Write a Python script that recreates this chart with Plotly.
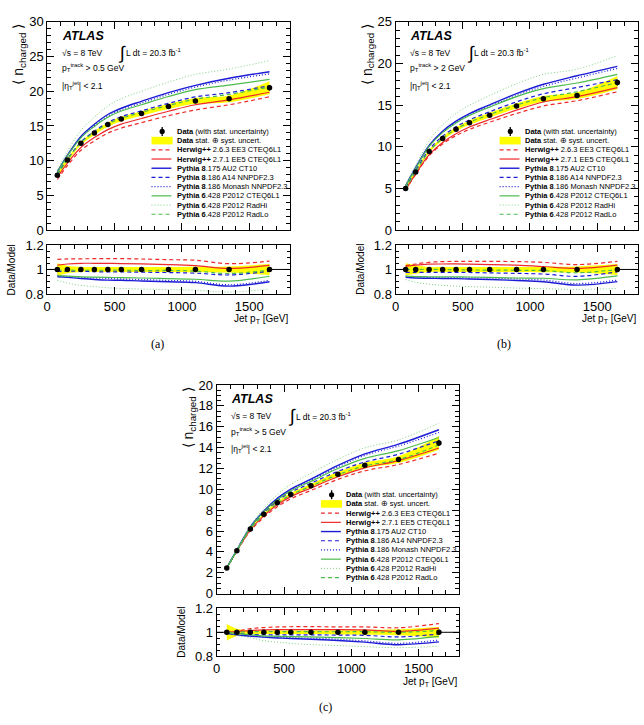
import plotly.graph_objects as go

# ---------------- data ----------------
PT = [75, 150, 250, 350, 450, 550, 700, 900, 1100, 1350, 1650]
X_TICKS = [0, 500, 1000, 1500]

# panel (a): pT(track) > 0.5 GeV
DATA_A = [7.9, 10.1, 12.5, 14.0, 15.2, 16.0, 16.8, 17.8, 18.6, 18.9, 20.5]
STAT_A = [0.05, 0.05, 0.05, 0.05, 0.05, 0.06, 0.06, 0.08, 0.1, 0.15, 0.4]
SYST_A = [0.05, 0.03, 0.02, 0.02, 0.02, 0.02, 0.02, 0.02, 0.022, 0.025, 0.045]
HW263_A = [7.3, 9.3, 11.5, 12.87, 13.97, 14.7, 15.48, 16.48, 17.3, 18.05, 19.2]
HW271_A = [7.63, 9.67, 11.9, 13.33, 14.48, 15.27, 16.08, 17.12, 18.05, 18.75, 19.85]
AU2_A = [8.4, 10.8, 13.5, 15.25, 16.65, 17.55, 18.55, 19.8, 20.85, 21.87, 22.8]
A14_A = [8.03, 10.25, 12.69, 14.26, 15.51, 16.33, 17.18, 18.26, 19.18, 19.79, 20.8]
MONASH_A = [8.3, 10.7, 13.35, 15.05, 16.4, 17.35, 18.3, 19.55, 20.6, 21.6, 22.5]
P2012_A = [8.32, 10.69, 13.3, 14.94, 16.26, 17.15, 18.06, 19.24, 20.22, 20.88, 21.7]
RADHI_A = [8.68, 11.35, 14.37, 16.28, 17.88, 18.93, 20.0, 21.32, 22.41, 23.19, 24.4]
RADLO_A = [7.95, 10.15, 12.6, 14.1, 15.3, 16.1, 16.95, 17.95, 18.85, 19.55, 20.6]

# panel (b): pT(track) > 2 GeV
DATA_B = [5.0, 7.0, 9.45, 11.0, 12.1, 12.9, 13.8, 14.9, 15.75, 16.15, 17.7]
STAT_B = [0.04, 0.04, 0.04, 0.04, 0.05, 0.05, 0.05, 0.07, 0.09, 0.13, 0.35]
SYST_B = [0.05, 0.035, 0.02, 0.02, 0.02, 0.02, 0.02, 0.02, 0.022, 0.025, 0.045]
HW263_B = [4.85, 6.7, 8.93, 10.34, 11.35, 12.1, 12.95, 14.0, 14.89, 15.53, 16.6]
HW271_B = [4.88, 6.76, 9.06, 10.53, 11.58, 12.37, 13.27, 14.4, 15.38, 16.02, 17.1]
AU2_B = [5.34, 7.53, 10.18, 11.88, 13.08, 13.99, 15.03, 16.37, 17.5, 18.52, 19.65]
A14_B = [5.12, 7.17, 9.68, 11.27, 12.4, 13.23, 14.2, 15.39, 16.36, 17.11, 18.05]
MONASH_B = [5.3, 7.45, 10.1, 11.8, 12.95, 13.85, 14.85, 16.15, 17.25, 18.25, 19.4]
P2012_B = [5.29, 7.43, 10.05, 11.7, 12.87, 13.75, 14.76, 16.02, 16.97, 17.65, 18.69]
RADHI_B = [5.45, 7.82, 10.74, 12.64, 14.0, 15.0, 16.14, 17.57, 18.68, 19.3, 20.95]
RADLO_B = [5.0, 7.0, 9.45, 11.0, 12.12, 12.95, 13.87, 15.0, 15.9, 16.6, 17.7]

# panel (c): pT(track) > 5 GeV
DATA_C = [2.45, 4.1, 6.2, 7.6, 8.7, 9.5, 10.35, 11.45, 12.3, 12.85, 14.45]
STAT_C = [0.03, 0.03, 0.03, 0.03, 0.04, 0.04, 0.04, 0.06, 0.08, 0.12, 0.3]
SYST_C = [0.07, 0.03, 0.015, 0.015, 0.015, 0.015, 0.015, 0.018, 0.02, 0.025, 0.045]
HW263_C = [2.45, 4.06, 6.02, 7.31, 8.33, 9.08, 9.89, 10.95, 11.77, 12.38, 13.47]
HW271_C = [2.45, 4.08, 6.11, 7.45, 8.51, 9.3, 10.13, 11.2, 12.06, 12.75, 13.96]
AU2_C = [2.47, 4.19, 6.4, 7.92, 9.13, 10.02, 10.98, 12.29, 13.4, 14.33, 15.71]
A14_C = [2.45, 4.14, 6.31, 7.76, 8.89, 9.71, 10.58, 11.72, 12.62, 13.36, 14.66]
MONASH_C = [2.47, 4.2, 6.4, 7.9, 9.08, 9.95, 10.88, 12.15, 13.25, 14.15, 15.45]
P2012_C = [2.45, 4.14, 6.33, 7.84, 9.0, 9.85, 10.76, 11.99, 12.97, 13.71, 14.97]
RADHI_C = [2.47, 4.21, 6.49, 8.17, 9.48, 10.46, 11.54, 12.87, 13.98, 14.74, 16.35]
RADLO_C = [2.45, 4.1, 6.17, 7.56, 8.66, 9.45, 10.3, 11.4, 12.24, 12.85, 14.25]

LEGEND_BOLD = ["Data", "Data", "Herwig++", "Herwig++", "Pythia 8", "Pythia 8",
               "Pythia 8", "Pythia 6", "Pythia 6", "Pythia 6"]
LEGEND_REST = [" (with stat. uncertainty)", " stat. \u2295 syst. uncert.",
               " 2.6.3 EE3 CTEQ6L1", " 2.7.1 EE5 CTEQ6L1", ".175 AU2 CT10",
               ".186 A14 NNPDF2.3", ".186 Monash NNPDF2.3", ".428 P2012 CTEQ6L1",
               ".428 P2012 RadHi", ".428 P2012 RadLo"]
PT_CUTS = ["0.5", "2", "5"]
CAPTIONS = ["(a)", "(b)", "(c)"]

# ---------------- styles ----------------
RED = "#ee2a2a"
BLUE = "#1c1cd6"
GREEN = "#4cbb4c"
LGREEN = "#7fd07f"
DASH = "4px,3px"
DOT = "1px,2px"
MODEL_STYLES = [(RED, DASH, 1.2), (RED, "solid", 1.2), (BLUE, "solid", 1.4),
                (BLUE, DASH, 1.2), (BLUE, DOT, 1.2), (GREEN, "solid", 1.2),
                (LGREEN, DOT, 1.0), (GREEN, DASH, 1.2)]
FONT = "Liberation Sans, Arial, sans-serif"
W, H = 644, 725

panels = [
    dict(data=DATA_A, stat=STAT_A, syst=SYST_A,
         models=[HW263_A, HW271_A, AU2_A, A14_A, MONASH_A, P2012_A, RADHI_A, RADLO_A],
         ymax=30, dtick=5, minor=1, xl=43.5, xr=287.5, mt=15, mb=228, rt=243, rb=293,
         cap=(154, 344)),
    dict(data=DATA_B, stat=STAT_B, syst=SYST_B,
         models=[HW263_B, HW271_B, AU2_B, A14_B, MONASH_B, P2012_B, RADHI_B, RADLO_B],
         ymax=25, dtick=5, minor=1, xl=394, xr=637.5, mt=15, mb=228, rt=243, rb=293,
         cap=(503, 344)),
    dict(data=DATA_C, stat=STAT_C, syst=SYST_C,
         models=[HW263_C, HW271_C, AU2_C, A14_C, MONASH_C, P2012_C, RADHI_C, RADLO_C],
         ymax=20, dtick=2, minor=0.5, xl=214, xr=458, mt=386, mb=599, rt=614, rb=663,
         cap=(324, 715)),
]

fig = go.Figure()
layout_axes = {}
annotations = []
shapes = []

def ax_common():
    return dict(showline=True, linecolor="black", linewidth=1, mirror="allticks",
                ticks="inside", ticklen=7, tickwidth=1, tickcolor="black",
                showgrid=False, zeroline=False,
                tickfont=dict(family=FONT, size=13, color="black"))

for i, p in enumerate(panels):
    nm, nr = 2 * i + 1, 2 * i + 2
    xm = "x" if nm == 1 else f"x{nm}"
    ym = "y" if nm == 1 else f"y{nm}"
    xr_, yr_ = f"x{nr}", f"y{nr}"
    xdom = [p["xl"] / W, p["xr"] / W]
    d, st, sy = p["data"], p["stat"], p["syst"]

    lo = [v * (1 - s) for v, s in zip(d, sy)]
    hi = [v * (1 + s) for v, s in zip(d, sy)]
    rlo = [1 - s for s in sy]
    rhi = [1 + s for s in sy]

    for (xa, ya, yl, yh) in [(xm, ym, lo, hi), (xr_, yr_, rlo, rhi)]:
        fig.add_trace(go.Scatter(x=PT, y=yl, mode="lines", line=dict(width=0, shape="spline"),
                                 xaxis=xa, yaxis=ya, showlegend=False, hoverinfo="skip"))
        fig.add_trace(go.Scatter(x=PT, y=yh, mode="lines", line=dict(width=0, shape="spline"),
                                 fill="tonexty", fillcolor="#ffff00",
                                 xaxis=xa, yaxis=ya, showlegend=False, hoverinfo="skip"))

    for m, (c, dash, lw) in zip(p["models"], MODEL_STYLES):
        fig.add_trace(go.Scatter(x=PT, y=m, mode="lines",
                                 line=dict(color=c, dash=dash, width=lw, shape="spline"),
                                 xaxis=xm, yaxis=ym, showlegend=False))
        fig.add_trace(go.Scatter(x=PT, y=[a / b for a, b in zip(d, m)], mode="lines",
                                 line=dict(color=c, dash=dash, width=lw, shape="spline"),
                                 xaxis=xr_, yaxis=yr_, showlegend=False))

    # ratio reference line
    shapes.append(dict(type="line", xref=f"{xr_} domain", yref=yr_, x0=0, x1=1, y0=1, y1=1,
                       line=dict(color="black", width=1), layer="below"))

    fig.add_trace(go.Scatter(x=PT, y=d, mode="markers",
                             marker=dict(color="black", size=5.5),
                             error_y=dict(type="data", array=st, color="black", thickness=1.3, width=0),
                             xaxis=xm, yaxis=ym, showlegend=False))
    fig.add_trace(go.Scatter(x=PT, y=[a / a for a in d], mode="markers",
                             marker=dict(color="black", size=5.5),
                             error_y=dict(type="data", array=[s / a for s, a in zip(st, d)],
                                          color="black", thickness=1.3, width=0),
                             xaxis=xr_, yaxis=yr_, showlegend=False))

    # axes
    kx = "xaxis" if nm == 1 else f"xaxis{nm}"
    ky = "yaxis" if nm == 1 else f"yaxis{nm}"
    a = ax_common()
    a.update(domain=xdom, anchor=ym, range=[0, 1800], tickvals=X_TICKS, showticklabels=False,
             minor=dict(dtick=100, tick0=0, ticklen=4, ticks="inside", tickcolor="black"))
    layout_axes[kx] = a
    a = ax_common()
    a.update(domain=[1 - p["mb"] / H, 1 - p["mt"] / H], anchor=xm, range=[0, p["ymax"]],
             dtick=p["dtick"], tick0=0,
             minor=dict(dtick=p["minor"], tick0=0, ticklen=4, ticks="inside", tickcolor="black"))
    layout_axes[ky] = a
    a = ax_common()
    a.update(domain=xdom, anchor=yr_, range=[0, 1800], tickvals=X_TICKS,
             minor=dict(dtick=100, tick0=0, ticklen=4, ticks="inside", tickcolor="black"))
    layout_axes[f"xaxis{nr}"] = a
    a = ax_common()
    a.update(domain=[1 - p["rb"] / H, 1 - p["rt"] / H], anchor=xr_, range=[0.8, 1.2],
             tickvals=[0.8, 1.0, 1.2], ticktext=["0.8", "1", "1.2"], ticklen=6,
             minor=dict(dtick=0.05, tick0=0.8, ticklen=3, ticks="inside", tickcolor="black"))
    layout_axes[f"yaxis{nr}"] = a

    # axis titles
    annotations.append(dict(text="\u27e8 n<sub>charged</sub> \u27e9", textangle=-90,
                            xref="paper", yref="paper", x=(p["xl"] - 28) / W,
                            y=1 - p["mt"] / H, xanchor="center", yanchor="top",
                            showarrow=False, font=dict(family=FONT, size=14, color="black")))
    annotations.append(dict(text="Data/Model", textangle=-90,
                            xref="paper", yref="paper", x=(p["xl"] - 35.5) / W,
                            y=1 - (p["rt"] + p["rb"]) / 2 / H, xanchor="center", yanchor="middle",
                            showarrow=False, font=dict(family=FONT, size=10, color="black")))
    annotations.append(dict(text="Jet p<sub>T</sub> [GeV]", xref="paper", yref="paper",
                            x=(p["xr"] + 1) / W, y=1 - (p["rb"] + 26) / H,
                            xanchor="right", yanchor="middle", showarrow=False,
                            font=dict(family=FONT, size=10, color="black")))
    annotations.append(dict(text=CAPTIONS[i], xref="paper", yref="paper",
                            x=p["cap"][0] / W, y=1 - p["cap"][1] / H,
                            xanchor="center", yanchor="middle", showarrow=False,
                            font=dict(family="Liberation Serif, Times New Roman, serif",
                                      size=12, color="black")))

    # labels inside main panel
    xd, yd = f"{xm} domain", f"{ym} domain"
    def txt(t, x, y, size, **kw):
        annotations.append(dict(text=t, xref=xd, yref=yd, x=x, y=y, xanchor="left",
                                yanchor="middle", showarrow=False,
                                font=dict(family=FONT, size=size, color="black"), **kw))
    txt("<b><i>ATLAS</i></b>", 0.052, 0.932, 12.5)
    txt("\u221as = 8 TeV", 0.052, 0.851, 8.5)
    txt("\u222b", 0.285, 0.851, 18)
    txt("L dt = 20.3 fb<sup>-1</sup>", 0.317, 0.851, 8.5)
    txt(f"p<sub>T</sub><sup>track</sup> > {PT_CUTS[i]} GeV", 0.052, 0.778, 8.5)
    txt("|\u03b7<sub>T</sub><sup>jet</sup>| < 2.1", 0.052, 0.695, 8.5)

    # legend (drawn manually, ROOT-style compact entries)
    y0, dy = 0.474, 9.4 / 213
    for k, (b, r) in enumerate(zip(LEGEND_BOLD, LEGEND_REST)):
        yy = y0 - k * dy
        txt(f"<b>{b}</b>{r}", 0.527, yy, 7.5)
        if k == 0:
            shapes.append(dict(type="line", xref=xd, yref=yd, xsizemode="pixel", xanchor=0.474,
                               x0=0, x1=0, ysizemode="pixel", yanchor=yy, y0=-4.5, y1=4.5,
                               line=dict(color="black", width=1.3)))
            shapes.append(dict(type="circle", xref=xd, yref=yd, xsizemode="pixel", xanchor=0.474,
                               x0=-2.6, x1=2.6, ysizemode="pixel", yanchor=yy, y0=-2.6, y1=2.6,
                               fillcolor="black", line=dict(color="black", width=0)))
        elif k == 1:
            shapes.append(dict(type="rect", xref=xd, yref=yd, x0=0.43, x1=0.517,
                               ysizemode="pixel", yanchor=yy, y0=-3.8, y1=3.8,
                               fillcolor="#ffff00", line=dict(width=0)))
        else:
            c, dash, lw = MODEL_STYLES[k - 2]
            shapes.append(dict(type="line", xref=xd, yref=yd, x0=0.43, x1=0.512, y0=yy, y1=yy,
                               line=dict(color=c, width=lw, dash=dash)))

fig.update_layout(width=W, height=H, margin=dict(l=0, r=0, t=0, b=0),
                  paper_bgcolor="white", plot_bgcolor="white", showlegend=False,
                  annotations=annotations, shapes=shapes, **layout_axes)

fig.write_html("out.html")
